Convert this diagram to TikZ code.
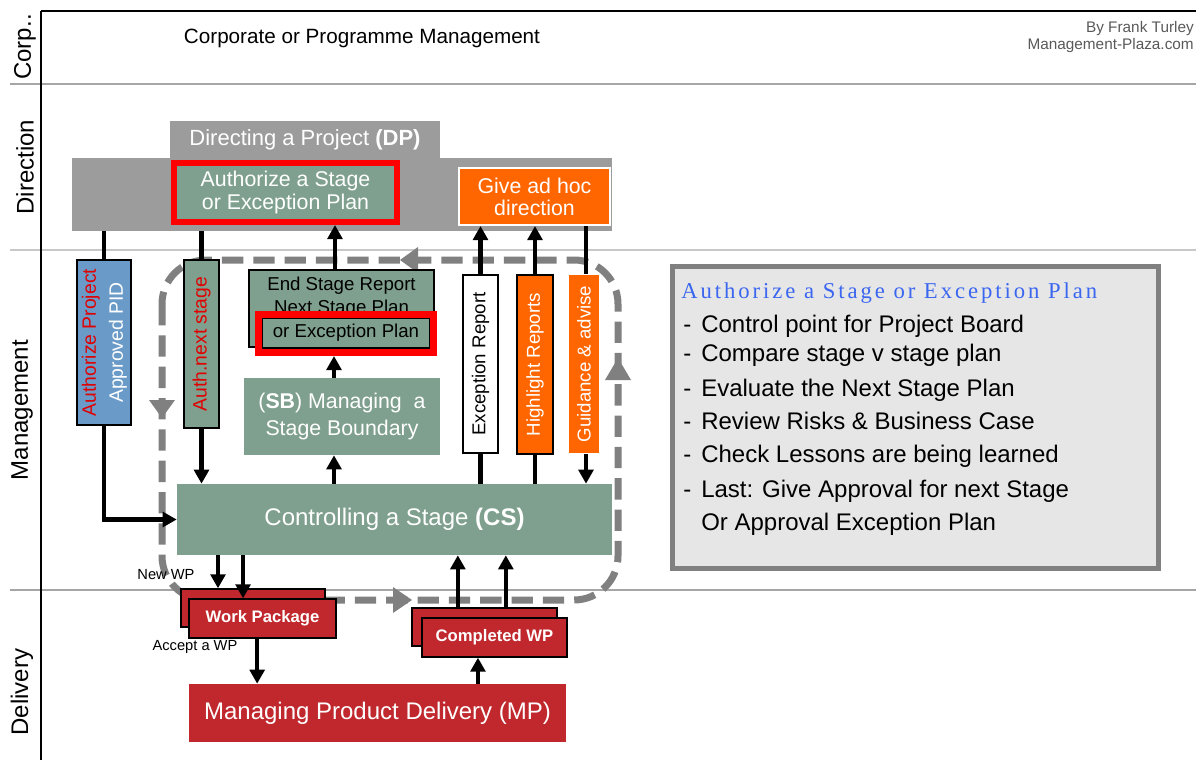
\documentclass[tikz,border=0pt]{standalone}
\usepackage{fontspec}
\usepackage{graphicx}
\setmainfont{Liberation Sans}
\newfontfamily\titlefont[LetterSpace=13]{Liberation Serif}
\usetikzlibrary{arrows.meta,calc}
\definecolor{sgreen}{HTML}{7FA08E}
\definecolor{dpgray}{HTML}{9C9C9C}
\definecolor{porange}{HTML}{FF6600}
\definecolor{wpred}{HTML}{C0282D}
\definecolor{pidblue}{HTML}{6A9BC8}
\definecolor{labred}{HTML}{E00000}
\definecolor{panelgray}{HTML}{E6E6E6}
\definecolor{loopgray}{HTML}{808080}
\definecolor{lanegray}{HTML}{A6A6A6}
\definecolor{lanelight}{HTML}{C8C8C8}
\definecolor{titleblue}{HTML}{3A66F0}
\definecolor{credgray}{HTML}{595959}
\begin{document}
\begin{tikzpicture}[x=0.75pt,y=-0.75pt,
  sz/.style 2 args={minimum width=#1*0.75pt, minimum height=#2*0.75pt},
  box/.style={inner sep=0pt, align=center},
  lanelab/.style={font=\fontsize{18}{22}\selectfont, rotate=90, inner sep=0pt},
  conn/.style={line width=3.2pt},
  arr/.style={line width=3.2pt, -{Triangle[length=10.5pt,width=11pt]}},
  item/.style={anchor=base west, inner sep=0pt, font=\fontsize{18}{21}\selectfont},
  wpbox/.style={box, draw=black, line width=1pt, fill=wpred, text=white, font=\bfseries\fontsize{12.5}{15}\selectfont},
  vlab/.style={box, line width=1.5pt}
]
\useasboundingbox (0,0) rectangle (1196,760);
% lanes
\draw[lanegray, line width=2pt] (10,84) -- (1196,84);
\draw[lanelight, line width=1.5pt] (10,250) -- (1196,250);
\draw[lanegray, line width=2pt] (10,590) -- (1196,590);
\draw[black, line width=2.2pt] (41,11) -- (1196,11);
\draw[black, line width=1.5pt] (41,11) -- (41,760);
\node[lanelab] (lcorp) at (25,47) {Corp..};
\node[lanelab] (ldir) at (25,167) {Direction};
\node[lanelab] (lman) at (22,410) {Management};
\node[lanelab] (ldel) at (22,692) {Delivery};
\node[font=\fontsize{15.5}{18}\selectfont] (corp) at (362,38) {Corporate or Programme Management};
\node[anchor=east, align=right, inner sep=0pt, text=credgray, font=\fontsize{11.5}{12.75}\selectfont] (credit) at (1194,37) {By Frank Turley\\Management-Plaza.com};
% dashed loop
\draw[loopgray, line width=5.25pt, dash pattern=on 16pt off 7.5pt, rounded corners=33pt] (162,260) rectangle (618,600);
\fill[loopgray] (400,260) -- (418,247) -- (418,273) -- cycle;
\fill[loopgray] (162,418) -- (149,400) -- (175,400) -- cycle;
\fill[loopgray] (412,600) -- (393,587) -- (393,613) -- cycle;
\fill[loopgray] (618,358) -- (605,380) -- (631,380) -- cycle;
% Directing a project
\node[fill=dpgray, sz={540}{73}, inner sep=0pt] (dp) at (342,194.5) {};
\node[box, fill=dpgray, sz={270}{37}, text=white, font=\fontsize{16.5}{20}\selectfont] (dptab) at (305,139.5) {Directing a Project \textbf{(DP)}};
\node[box, draw=red, line width=4.5pt, fill=sgreen, sz={223}{59}, text=white, font=\fontsize{16}{17.25}\selectfont] (auth) at (285.5,192.5) {Authorize a Stage\\ or Exception Plan};
\node[box, draw=white, line width=1.5pt, fill=porange, sz={151}{57}, text=white, font=\fontsize{16}{16.5}\selectfont] (adhoc) at (534.5,196.5) {Give ad hoc\\direction};
% management
\node[vlab, draw=black, fill=pidblue, sz={54}{165}] (pid) at (104,342.5) {\rotatebox{90}{\fontsize{14.5}{20.25}\selectfont\begin{tabular}{@{}c@{}}\textcolor{labred}{Authorize Project}\\ \textcolor{white}{Approved PID}\end{tabular}}};
\node[vlab, draw=black, fill=sgreen, sz={35}{168}] (authnext) at (201.5,344) {\rotatebox{90}{\fontsize{14.5}{17}\selectfont\textcolor{labred}{Auth.next stage}}};
\node[box, draw=black, line width=1.5pt, fill=sgreen, sz={185}{77}] (endstage) at (341.5,308.5) {};
\node[box, font=\fontsize{14}{17.25}\selectfont] (endtxt) at (341.5,297.5) {End Stage Report\\Next Stage Plan};
\node[box, draw=black, line width=1pt, fill=sgreen, sz={168}{30}, font=\fontsize{14}{17}\selectfont] (excbox) at (346,333) {or Exception Plan};
\node[draw=red, line width=5.25pt, sz={175}{38}, inner sep=0pt] (excring) at (346,333.5) {};
\node[box, fill=sgreen, sz={196}{77}, text=white, font=\fontsize{16}{20.25}\selectfont] (sb) at (342,416.5) {(\textbf{SB}) Managing\ \ a\\Stage Boundary};
\node[box, fill=sgreen, sz={435}{71}, text=white, font=\fontsize{18}{21}\selectfont] (cs) at (394.5,519.5) {Controlling a Stage \textbf{(CS)}};
\node[vlab, draw=black, fill=white, sz={35}{178}] (excrep) at (480.5,364) {\rotatebox{90}{\fontsize{14}{17}\selectfont Exception Report}};
\node[vlab, draw=black, fill=porange, sz={36}{179}] (highlight) at (535,364.5) {\rotatebox{90}{\fontsize{14}{17}\selectfont\textcolor{white}{Highlight Reports}}};
\node[vlab, fill=porange, sz={30}{178}] (guidance) at (584,364) {\rotatebox{90}{\fontsize{14}{17}\selectfont\textcolor{white}{Guidance \& advise}}};
% delivery
\node[wpbox, sz={144}{38}] (wpback) at (253,608) {};
\node[wpbox, sz={147}{39}] (wp) at (262.5,618.5) {Work Package};
\node[wpbox, sz={145}{38}] (cwpback) at (484.5,627) {};
\node[wpbox, sz={145}{39}] (cwp) at (494.5,637.5) {Completed WP};
\node[box, fill=wpred, sz={377}{58}, text=white, font=\fontsize{18}{21}\selectfont] (mp) at (377.5,713) {Managing Product Delivery (MP)};
\node[font=\fontsize{11}{13}\selectfont, inner sep=0pt] (newwp) at (166,575) {New WP};
\node[font=\fontsize{11}{13}\selectfont, inner sep=0pt] (acceptwp) at (195,647) {Accept a WP};
% panel
\node[draw=loopgray, line width=3.75pt, fill=panelgray, sz={486}{302}, inner sep=0pt] (panel) at (915.5,417.5) {};
\node[anchor=base west, inner sep=0pt, text=titleblue, font=\titlefont\fontsize{17}{20}\selectfont] (ptitle) at (681,298) {Authorize a Stage or Exception Plan};
\node[item] (i1) at (683,332) {\makebox[13.5pt][l]{-}Control point for Project Board};
\node[item] (i2) at (683,361) {\makebox[13.5pt][l]{-}Compare stage v stage plan};
\node[item] (i3) at (683,396) {\makebox[13.5pt][l]{-}Evaluate the Next Stage Plan};
\node[item] (i4) at (683,429) {\makebox[13.5pt][l]{-}Review Risks \& Business Case};
\node[item] (i5) at (683,462) {\makebox[13.5pt][l]{-}Check Lessons are being learned};
\node[item] (i6) at (683,497) {\makebox[13.5pt][l]{-}Last: Give Approval for next Stage};
\node[item] (i7) at (701,530) {Or Approval Exception Plan};
% connectors
\draw[conn] (pid.north |- dp.south) -- (pid.north);
\draw[arr] (pid.south) |- (cs.west);
\draw[conn] (authnext.north |- dp.south) -- (authnext.north);
\draw[arr] (authnext.south) -- (authnext.south |- cs.north);
\draw[arr] ([xshift=-6pt]sb.south |- cs.north) -- ([xshift=-6pt]sb.south);
\draw[arr] ([xshift=-6pt]sb.north) -- ([xshift=-6pt]sb.north |- excring.south);
\draw[arr] ([xshift=-4.9pt]endstage.north) -- ([xshift=-4.9pt]endstage.north |- auth.south);
\draw[conn] (excrep.south |- cs.north) -- (excrep.south);
\draw[arr] (excrep.north) -- (excrep.north |- adhoc.south);
\draw[conn] (highlight.south |- cs.north) -- (highlight.south);
\draw[arr] (highlight.north) -- (highlight.north |- adhoc.south);
\draw[conn] ([xshift=1.5pt]guidance.north |- adhoc.south) -- ([xshift=1.5pt]guidance.north);
\draw[arr] ([xshift=1.5pt]guidance.south) -- ([xshift=1.5pt]guidance.south |- cs.north);
\draw[arr] ([xshift=-26.25pt]wpback.north |- cs.south) -- ([xshift=-26.25pt]wpback.north);
\draw[arr] ([xshift=-14.6pt]wp.north |- cs.south) -- ([xshift=-14.6pt]wp.north);
\draw[arr] ([xshift=-4pt]wp.south) -- ([xshift=-4pt]wp.south |- mp.north);
\draw[arr] ([xshift=-12.4pt]cwp.south |- mp.north) -- ([xshift=-12.4pt]cwp.south);
\draw[arr] ([xshift=-20pt]cwpback.north) -- ([xshift=-20pt]cwpback.north |- cs.south);
\draw[arr] ([xshift=16pt]cwpback.north) -- ([xshift=16pt]cwpback.north |- cs.south);
\end{tikzpicture}
\end{document}
